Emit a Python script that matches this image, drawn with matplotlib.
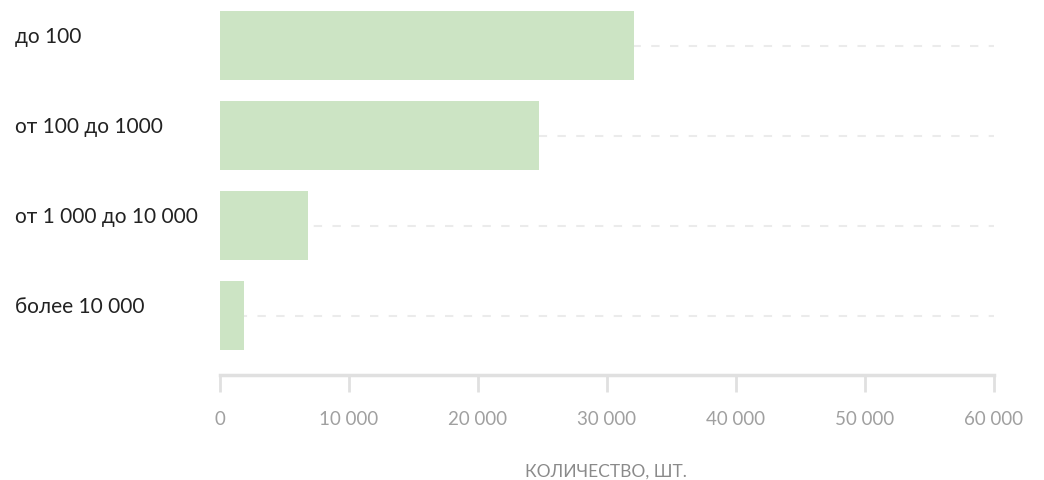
import matplotlib.pyplot as plt
from matplotlib.ticker import FuncFormatter
import matplotlib.transforms as mtransforms

categories = ["до 100", "от 100 до 1000", "от 1 000 до 10 000", "более 10 000"]
values = [32100, 24700, 6800, 1850]
x_ticks = [0, 10000, 20000, 30000, 40000, 50000, 60000]

BAR_COLOR = "#cce4c4"
GRID_COLOR = "#ebebeb"
AXIS_COLOR = "#e0e0e0"

plt.rcParams["font.family"] = ["Lato", "DejaVu Sans"]


def main():
    fig = plt.figure(figsize=(10.44, 4.81), dpi=100)
    ax = fig.add_axes([220 / 1044, 1 - 376 / 481, 774 / 1044, 376 / 481])

    pos = list(range(len(categories)))
    for p in pos:
        ax.plot([0, 60000], [p, p], color=GRID_COLOR, lw=1.5,
                dashes=(4, 5), zorder=1)
    ax.barh(pos, values, height=0.76, color=BAR_COLOR, zorder=2)

    ax.set_xlim(0, 60000)
    ax.set_ylim(3.661, -0.517)

    for s in ["top", "right", "left"]:
        ax.spines[s].set_visible(False)
    ax.spines["bottom"].set_color(AXIS_COLOR)
    ax.spines["bottom"].set_linewidth(2.5)

    ax.set_yticks([])
    ax.set_xticks(x_ticks)
    ax.xaxis.set_major_formatter(
        FuncFormatter(lambda v, _: f"{v:,.0f}".replace(",", " ")))
    ax.tick_params(axis="x", length=12, width=2, color=AXIS_COLOR,
                   pad=13, labelsize=13.5, labelcolor="#a0a0a0")

    trans = mtransforms.blended_transform_factory(fig.transFigure, ax.transData)
    for p, name in zip(pos, categories):
        ax.text(15 / 1044, p - 0.04, name, transform=trans, ha="left",
                va="baseline", fontsize=15, color="#222222")

    fig.text(606 / 1044, 1 - 472 / 481, "КОЛИЧЕСТВО, ШТ.", ha="center",
             va="center", fontsize=12.5, color="#8a8a8a")

    fig.savefig("out.png", dpi=100)


if __name__ == "__main__":
    main()
